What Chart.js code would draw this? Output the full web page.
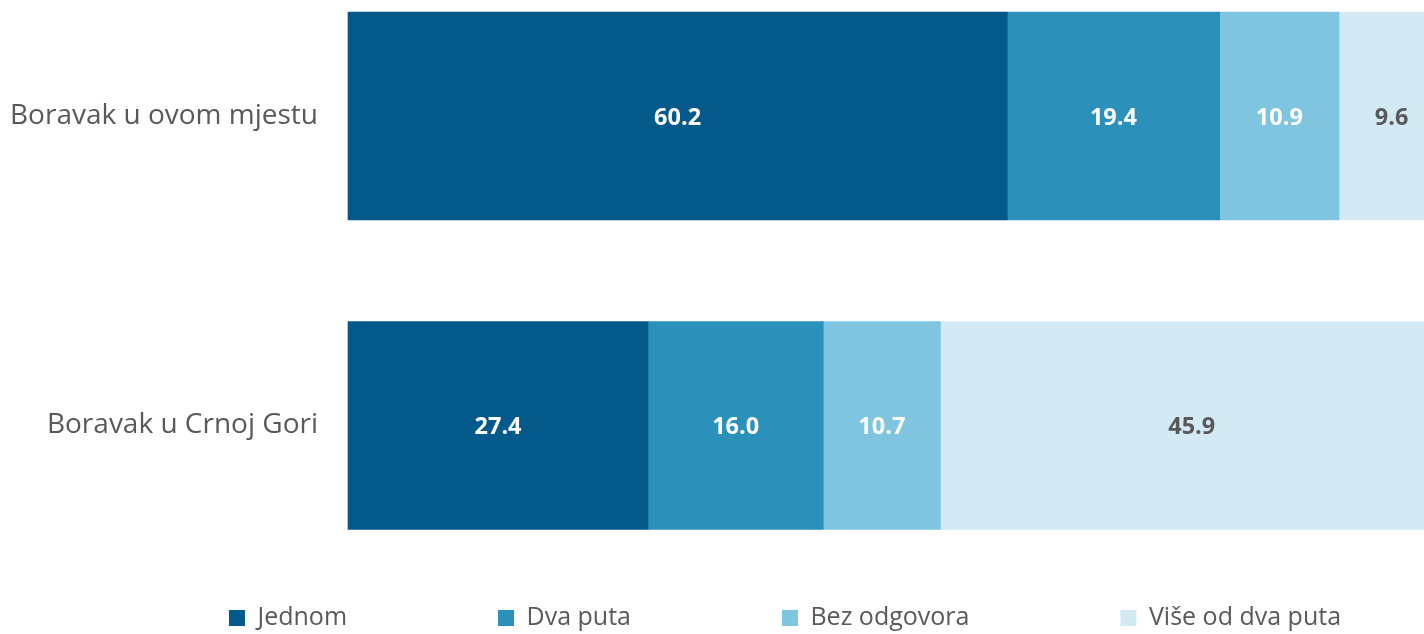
<!DOCTYPE html>
<html>
<head>
<meta charset="utf-8">
<script src="https://cdn.jsdelivr.net/npm/chart.js@4"></script>
<style>
  html, body { margin: 0; padding: 0; background: #fff; }
  #wrap { width: 1424px; height: 634px; }
</style>
</head>
<body>
<div id="wrap"><canvas id="stayChart" width="1424" height="634"></canvas></div>
<script>
// --- data ---
const categories = ["Boravak u ovom mjestu", "Boravak u Crnoj Gori"];
const seriesNames = ["Jednom", "Dva puta", "Bez odgovora", "Više od dva puta"];
const jednom = [60.2, 27.4];
const dvaPuta = [19.4, 16.0];
const bezOdgovora = [10.9, 10.7];
const viseOdDva = [9.6, 45.9];

const colors = ["#03598a", "#2b91bb", "#7fc5e0", "#d3eaf4"];
const labelColors = ["#ffffff", "#ffffff", "#ffffff", "#595959"];

// value labels in the middle of each segment
const valueLabels = {
    id: "valueLabels",
    afterDatasetsDraw(chart) {
        const ctx = chart.ctx;
        ctx.save();
        ctx.font = "bold 23.5px 'Open Sans'";
        ctx.textAlign = "center";
        ctx.textBaseline = "middle";
        chart.data.datasets.forEach((ds, i) => {
            chart.getDatasetMeta(i).data.forEach((bar, j) => {
                const p = bar.getCenterPoint();
                ctx.fillStyle = labelColors[i];
                ctx.fillText(ds.data[j].toFixed(1), p.x, p.y + 2);
            });
        });
        ctx.restore();
    }
};

const seriesData = [jednom, dvaPuta, bezOdgovora, viseOdDva];

const ctx = document.getElementById("stayChart").getContext("2d");
const stayChart = new Chart(ctx, {
    type: "bar",
    data: {
        labels: categories,
        datasets: seriesNames.map((name, i) => ({
            label: name,
            data: seriesData[i],
            backgroundColor: colors[i],
            borderWidth: 0,
            barThickness: 208,
            clip: false
        }))
    },
    options: {
        indexAxis: "y",
        responsive: false,
        animation: false,
        layout: { padding: { top: 116, bottom: -6.5, left: 0, right: -146 } },
        scales: {
            x: {
                stacked: true,
                min: 0,
                max: 98.26,
                grid: { display: false },
                border: { display: false },
                ticks: { display: false },
                afterFit: (s) => { s.height = 29; }
            },
            y: {
                stacked: true,
                offset: false,
                grid: { display: false },
                border: { display: false },
                ticks: {
                    padding: 22,
                    color: "#595959",
                    font: { family: "'Open Sans'", size: 28 }
                },
                afterFit: (s) => { s.width = 348; }
            }
        },
        plugins: {
            legend: {
                position: "bottom",
                align: "center",
                labels: {
                    boxWidth: 16,
                    boxHeight: 16,
                    padding: 151,
                    color: "#595959",
                    font: { family: "'Open Sans'", size: 25 }
                }
            },
            tooltip: { enabled: false }
        }
    },
    plugins: [valueLabels]
});
</script>
</body>
</html>
